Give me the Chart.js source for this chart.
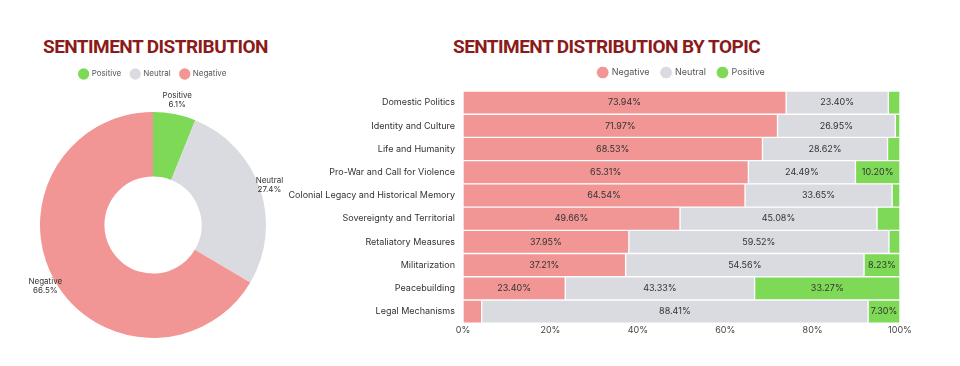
<!DOCTYPE html>
<html>
<head>
<meta charset="utf-8">
<script src="https://cdn.jsdelivr.net/npm/chart.js@4.4.1/dist/chart.umd.min.js"></script>
<style>
  body { margin: 0; background: #fff; width: 960px; height: 366px; overflow: hidden; position: relative; font-family: Inter, sans-serif; }
  .title { position: absolute; font-family: Roboto, sans-serif; font-weight: 700; font-size: 19px; color: #8b1a1a; letter-spacing: -0.55px; white-space: nowrap; }
  #t1 { left: 43px; top: 35px; }
  #t2 { left: 453px; top: 35px; }
  #pieWrap { position: absolute; left: 0; top: 60px; width: 306px; height: 302px; }
  #barWrap { position: absolute; left: 283px; top: 56px; width: 637px; height: 282px; }
</style>
</head>
<body>
<div class="title" id="t1">SENTIMENT DISTRIBUTION</div>
<div class="title" id="t2">SENTIMENT DISTRIBUTION BY TOPIC</div>
<div id="pieWrap"><canvas id="pieChart"></canvas></div>
<div id="barWrap"><canvas id="barChart"></canvas></div>
<script>
// overall split
const sentimentLabels = ['Positive', 'Neutral', 'Negative'];
const sentimentShares = [6.1, 27.4, 66.5];

// by topic
const topics = [
  'Domestic Politics', 'Identity and Culture', 'Life and Humanity',
  'Pro-War and Call for Violence', 'Colonial Legacy and Historical Memory',
  'Sovereignty and Territorial', 'Retaliatory Measures', 'Militarization',
  'Peacebuilding', 'Legal Mechanisms'
];
const negativeShare = [73.94, 71.97, 68.53, 65.31, 64.54, 49.66, 37.95, 37.21, 23.40, 4.29];
const neutralShare  = [23.40, 26.95, 28.62, 24.49, 33.65, 45.08, 59.52, 54.56, 43.33, 88.41];
const positiveShare = [2.66, 1.08, 2.85, 10.20, 1.81, 5.26, 2.53, 8.23, 33.27, 7.30];
const xTicks = [0, 20, 40, 60, 80, 100];

const RED = '#f29595', GREY = '#dadae1', GREEN = '#7ed957';

const pieLabels = {
  id: 'pieLabels',
  afterDatasetsDraw(chart) {
    const ctx = chart.ctx;
    const meta = chart.getDatasetMeta(0);
    ctx.save();
    ctx.font = '8px Inter, sans-serif';
    ctx.fillStyle = '#333';
    ctx.textAlign = 'center';
    ctx.textBaseline = 'middle';
    meta.data.forEach((arc, i) => {
      const mid = (arc.startAngle + arc.endAngle) / 2;
      const r = arc.outerRadius + 8 + 6 * Math.abs(Math.sin(mid));
      const x = arc.x + Math.cos(mid) * r;
      const y = arc.y + Math.sin(mid) * r;
      ctx.fillText(sentimentLabels[i], x, y - 4.5);
      ctx.fillText(sentimentShares[i].toFixed(1) + '%', x, y + 4.5);
    });
    ctx.restore();
  }
};

new Chart(document.getElementById('pieChart'), {
  type: 'doughnut',
  data: {
    labels: sentimentLabels,
    datasets: [{
      data: sentimentShares,
      backgroundColor: [GREEN, GREY, RED],
      borderWidth: 0
    }]
  },
  options: {
    responsive: true,
    maintainAspectRatio: false,
    animation: false,
    cutout: '43%',
    layout: { padding: { left: 40, right: 40, top: 0, bottom: 0 } },
    plugins: {
      legend: {
        position: 'top',
        labels: { usePointStyle: true, pointStyle: 'circle', boxWidth: 8, boxHeight: 8, color: '#555', font: { family: 'Inter', size: 8 } }
      },
      tooltip: { enabled: false }
    }
  },
  plugins: [pieLabels]
});

const barLabels = {
  id: 'barLabels',
  afterDatasetsDraw(chart) {
    const ctx = chart.ctx;
    ctx.save();
    ctx.font = '9px Inter, sans-serif';
    ctx.fillStyle = '#333';
    ctx.textAlign = 'center';
    ctx.textBaseline = 'middle';
    chart.data.datasets.forEach((ds, di) => {
      chart.getDatasetMeta(di).data.forEach((bar, i) => {
        const v = ds.data[i];
        if (v < 7) return;
        ctx.fillText(v.toFixed(2) + '%', (bar.x + bar.base) / 2, bar.y);
      });
    });
    ctx.restore();
  }
};

// a little more room under the legend
const legendGap = {
  id: 'legendGap',
  beforeInit(chart) {
    const fit = chart.legend.fit;
    chart.legend.fit = function () {
      fit.bind(chart.legend)();
      this.height += 4;
    };
  }
};

new Chart(document.getElementById('barChart'), {
  type: 'bar',
  data: {
    labels: topics,
    datasets: [
      { label: 'Negative', data: negativeShare, backgroundColor: RED },
      { label: 'Neutral', data: neutralShare, backgroundColor: GREY },
      { label: 'Positive', data: positiveShare, backgroundColor: GREEN }
    ]
  },
  options: {
    indexAxis: 'y',
    responsive: true,
    maintainAspectRatio: false,
    animation: false,
    datasets: { bar: { barPercentage: 1, categoryPercentage: 1, borderWidth: 1, borderColor: '#fff', borderSkipped: false } },
    layout: { padding: { right: 20 } },
    scales: {
      x: {
        stacked: true, min: 0, max: 100,
        grid: { display: false, drawTicks: false }, border: { display: false },
        afterBuildTicks: s => { s.ticks = xTicks.map(v => ({ value: v })); },
        ticks: { callback: v => v + '%', color: '#444', font: { family: 'Inter', size: 9 }, padding: 2 }
      },
      y: {
        stacked: true,
        grid: { display: false, drawTicks: false }, border: { display: false },
        afterFit: s => { s.width = 180; },
        ticks: { color: '#333', font: { family: 'Inter', size: 9 }, padding: 8 }
      }
    },
    plugins: {
      legend: {
        position: 'top', fullSize: false,
        labels: { usePointStyle: true, pointStyle: 'circle', boxWidth: 9, boxHeight: 9, padding: 12, color: '#555', font: { family: 'Inter', size: 9 } }
      },
      tooltip: { enabled: false }
    }
  },
  plugins: [barLabels, legendGap]
});
</script>
</body>
</html>
